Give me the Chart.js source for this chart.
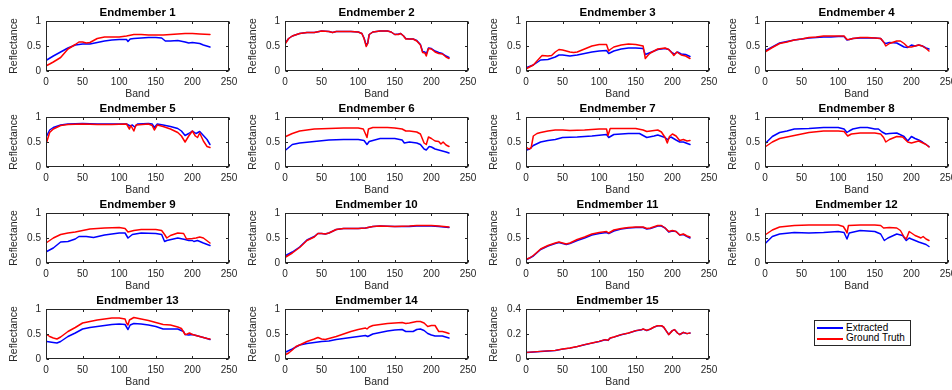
<!DOCTYPE html>
<html>
<head>
<meta charset="utf-8">
<script src="https://cdn.jsdelivr.net/npm/chart.js@4.4.1/dist/chart.umd.min.js"></script>
<style>
  html, body { margin: 0; padding: 0; width: 952px; height: 390px; overflow: hidden; background: #fff; }
  body { position: relative; font-family: "Liberation Sans", Arial, Helvetica, sans-serif; }
  canvas { position: absolute; }
  .lg-box { position: absolute; left: 814px; top: 320px; width: 97px; height: 26px; box-sizing: border-box; border: 1px solid #262626; background: #fff; }
  .lg-line { position: absolute; left: 817px; width: 26px; height: 1.5px; }
  .lg-text { position: absolute; left: 846px; font-size: 10px; line-height: 12px; color: #000; white-space: nowrap; }
</style>
</head>
<body>
<div class="lg-box"></div>
<div class="lg-line" style="top:327px; background:#0000ff"></div>
<div class="lg-text" style="top:321.5px">Extracted</div>
<div class="lg-line" style="top:338px; background:#ff0000"></div>
<div class="lg-text" style="top:332px">Ground Truth</div>
<script>
// band / reflectance pairs
const titles = ['Endmember 1', 'Endmember 2', 'Endmember 3', 'Endmember 4', 'Endmember 5',
    'Endmember 6', 'Endmember 7', 'Endmember 8', 'Endmember 9', 'Endmember 10',
    'Endmember 11', 'Endmember 12', 'Endmember 13', 'Endmember 14', 'Endmember 15'];
const seriesLabels = ['Extracted', 'Ground Truth'];
const xTicks = [0, 50, 100, 150, 200, 250];
const yTicks = [0, 0.5, 1];
const yTicks15 = [0, 0.2, 0.4];

const extracted1 = [[1,0.22],[10,0.30],[20,0.38],[30,0.46],[40,0.52],[50,0.54],[60,0.54],[70,0.57],[80,0.60],[90,0.62],[100,0.63],[110,0.63],[112,0.59],[115,0.64],[120,0.65],[130,0.66],[140,0.67],[150,0.67],[158,0.66],[163,0.60],[170,0.60],[180,0.61],[190,0.58],[195,0.56],[200,0.57],[210,0.55],[215,0.52],[224,0.48]];
const truth1 = [[1,0.11],[5,0.14],[10,0.18],[20,0.27],[30,0.44],[40,0.53],[45,0.58],[50,0.58],[55,0.56],[60,0.57],[70,0.65],[80,0.68],[90,0.68],[100,0.68],[110,0.70],[120,0.73],[130,0.73],[140,0.72],[150,0.72],[160,0.72],[170,0.73],[180,0.74],[190,0.75],[200,0.75],[210,0.74],[224,0.73]];

const extracted2 = [[1,0.57],[5,0.65],[10,0.70],[20,0.75],[30,0.77],[40,0.77],[50,0.80],[60,0.79],[65,0.77],[70,0.79],[80,0.79],[90,0.79],[100,0.78],[105,0.75],[108,0.66],[111,0.51],[113,0.56],[115,0.73],[120,0.78],[130,0.80],[140,0.80],[145,0.78],[150,0.73],[155,0.74],[158,0.75],[162,0.70],[165,0.65],[170,0.64],[175,0.64],[180,0.61],[185,0.53],[188,0.39],[191,0.38],[193,0.34],[196,0.46],[200,0.45],[205,0.40],[210,0.37],[215,0.35],[220,0.30],[224,0.27]];
const truth2 = [[1,0.56],[5,0.65],[10,0.70],[20,0.75],[30,0.77],[40,0.77],[50,0.80],[60,0.79],[65,0.77],[70,0.79],[80,0.79],[90,0.79],[100,0.78],[105,0.75],[108,0.65],[111,0.49],[113,0.55],[115,0.73],[120,0.78],[130,0.80],[140,0.80],[145,0.78],[150,0.73],[155,0.73],[158,0.75],[162,0.70],[165,0.64],[170,0.64],[175,0.64],[180,0.60],[185,0.52],[188,0.37],[191,0.36],[193,0.30],[196,0.45],[200,0.44],[205,0.38],[210,0.35],[215,0.34],[220,0.28],[224,0.25]];

const extracted3 = [[1,0.07],[10,0.12],[20,0.22],[30,0.23],[40,0.28],[45,0.32],[50,0.32],[60,0.30],[70,0.32],[80,0.35],[90,0.38],[100,0.40],[110,0.41],[113,0.35],[120,0.40],[130,0.44],[140,0.46],[150,0.46],[160,0.45],[163,0.33],[170,0.37],[180,0.43],[190,0.45],[195,0.43],[200,0.36],[203,0.34],[207,0.38],[212,0.34],[218,0.33],[224,0.29]];
const truth3 = [[1,0.05],[10,0.12],[20,0.28],[22,0.31],[30,0.30],[35,0.31],[40,0.38],[45,0.43],[50,0.42],[60,0.38],[65,0.37],[70,0.38],[80,0.44],[90,0.50],[100,0.53],[110,0.53],[113,0.40],[115,0.43],[120,0.48],[130,0.52],[140,0.54],[150,0.53],[160,0.50],[163,0.25],[167,0.32],[170,0.36],[180,0.44],[190,0.46],[195,0.43],[200,0.35],[202,0.31],[206,0.38],[212,0.32],[218,0.30],[224,0.25]];

const extracted4 = [[1,0.41],[10,0.48],[20,0.56],[30,0.59],[40,0.62],[50,0.64],[60,0.66],[70,0.67],[80,0.68],[90,0.68],[100,0.69],[108,0.69],[112,0.62],[115,0.63],[120,0.65],[130,0.66],[140,0.66],[150,0.66],[158,0.65],[162,0.58],[165,0.55],[170,0.57],[180,0.56],[185,0.52],[190,0.48],[195,0.47],[200,0.52],[205,0.50],[210,0.52],[215,0.50],[220,0.46],[224,0.44]];
const truth4 = [[1,0.39],[10,0.47],[20,0.55],[30,0.58],[40,0.62],[50,0.64],[60,0.67],[70,0.68],[80,0.70],[90,0.70],[100,0.70],[108,0.70],[112,0.63],[115,0.63],[120,0.65],[130,0.67],[140,0.67],[150,0.66],[158,0.65],[162,0.58],[165,0.50],[170,0.55],[180,0.60],[185,0.60],[190,0.55],[195,0.48],[200,0.48],[205,0.50],[210,0.52],[215,0.50],[220,0.45],[224,0.40]];

const extracted5 = [[1,0.62],[5,0.74],[10,0.79],[20,0.84],[30,0.86],[50,0.87],[70,0.86],[90,0.86],[110,0.86],[115,0.82],[118,0.84],[121,0.80],[125,0.86],[140,0.87],[145,0.86],[148,0.79],[152,0.86],[160,0.84],[170,0.81],[180,0.77],[185,0.72],[190,0.63],[195,0.67],[200,0.72],[205,0.67],[210,0.71],[215,0.63],[220,0.55],[224,0.45]];
const truth5 = [[1,0.50],[5,0.69],[10,0.76],[20,0.83],[30,0.85],[50,0.86],[70,0.85],[90,0.85],[110,0.86],[114,0.76],[116,0.83],[120,0.72],[123,0.84],[140,0.86],[145,0.83],[148,0.74],[152,0.84],[160,0.81],[170,0.76],[180,0.69],[185,0.62],[190,0.50],[195,0.62],[200,0.72],[204,0.62],[207,0.59],[210,0.68],[215,0.52],[220,0.41],[224,0.39]];

const extracted6 = [[1,0.34],[10,0.45],[20,0.48],[40,0.51],[60,0.54],[80,0.55],[100,0.55],[108,0.53],[112,0.45],[115,0.51],[130,0.57],[140,0.57],[150,0.57],[160,0.54],[163,0.48],[170,0.50],[180,0.48],[185,0.45],[190,0.36],[193,0.34],[197,0.41],[200,0.40],[205,0.36],[210,0.34],[220,0.30],[224,0.28]];
const truth6 = [[1,0.61],[10,0.67],[20,0.72],[40,0.76],[60,0.77],[80,0.78],[100,0.78],[107,0.76],[110,0.66],[112,0.59],[114,0.76],[120,0.79],[140,0.79],[150,0.78],[160,0.76],[165,0.72],[170,0.72],[180,0.70],[185,0.66],[190,0.48],[193,0.45],[196,0.60],[200,0.57],[205,0.52],[210,0.51],[213,0.46],[216,0.50],[220,0.44],[224,0.41]];

const extracted7 = [[1,0.34],[5,0.36],[10,0.43],[20,0.50],[30,0.53],[40,0.55],[50,0.59],[70,0.60],[90,0.62],[110,0.65],[113,0.59],[120,0.65],[140,0.67],[155,0.67],[160,0.63],[165,0.59],[175,0.62],[180,0.64],[190,0.59],[193,0.55],[198,0.60],[205,0.54],[210,0.50],[215,0.50],[224,0.45]];
const truth7 = [[1,0.39],[4,0.36],[7,0.38],[10,0.62],[15,0.67],[20,0.69],[30,0.72],[40,0.74],[50,0.74],[60,0.73],[80,0.74],[100,0.76],[110,0.76],[112,0.63],[115,0.77],[130,0.77],[150,0.77],[160,0.74],[165,0.71],[170,0.72],[180,0.74],[185,0.70],[190,0.59],[193,0.48],[196,0.61],[200,0.66],[205,0.62],[210,0.53],[215,0.55],[220,0.52],[224,0.53]];

const extracted8 = [[1,0.48],[10,0.61],[20,0.69],[30,0.72],[40,0.76],[60,0.77],[80,0.79],[100,0.79],[108,0.76],[112,0.69],[115,0.72],[120,0.76],[130,0.79],[140,0.79],[150,0.76],[155,0.76],[160,0.70],[165,0.66],[170,0.67],[180,0.68],[190,0.61],[195,0.52],[200,0.61],[205,0.57],[210,0.54],[215,0.50],[224,0.41]];
const truth8 = [[1,0.41],[10,0.50],[20,0.57],[40,0.63],[60,0.69],[80,0.72],[100,0.72],[108,0.71],[113,0.62],[118,0.66],[130,0.68],[150,0.68],[158,0.66],[162,0.59],[165,0.50],[170,0.55],[180,0.61],[188,0.60],[195,0.50],[200,0.48],[205,0.50],[210,0.52],[220,0.45],[224,0.40]];

const extracted9 = [[1,0.23],[10,0.30],[20,0.42],[30,0.43],[40,0.48],[45,0.53],[55,0.53],[65,0.51],[80,0.56],[100,0.60],[108,0.60],[112,0.50],[118,0.57],[130,0.60],[150,0.59],[158,0.57],[162,0.43],[165,0.45],[180,0.50],[190,0.47],[195,0.45],[200,0.45],[202,0.43],[207,0.45],[215,0.40],[224,0.35]];
const truth9 = [[1,0.41],[10,0.50],[20,0.57],[30,0.60],[40,0.62],[50,0.65],[60,0.68],[80,0.70],[100,0.71],[108,0.69],[112,0.62],[120,0.65],[130,0.67],[150,0.67],[158,0.65],[162,0.57],[165,0.50],[170,0.55],[180,0.60],[188,0.59],[192,0.48],[200,0.49],[205,0.50],[210,0.52],[215,0.50],[224,0.40]];

const extracted10 = [[1,0.15],[10,0.22],[20,0.32],[30,0.46],[40,0.53],[45,0.59],[50,0.59],[55,0.58],[60,0.60],[70,0.67],[80,0.69],[100,0.69],[110,0.70],[120,0.73],[130,0.74],[150,0.73],[170,0.73],[180,0.74],[200,0.74],[210,0.73],[224,0.71]];
const truth10 = [[1,0.12],[10,0.20],[20,0.31],[30,0.45],[40,0.52],[45,0.59],[50,0.59],[55,0.58],[60,0.60],[70,0.67],[80,0.69],[100,0.69],[110,0.70],[120,0.73],[130,0.74],[150,0.73],[170,0.74],[180,0.75],[200,0.75],[210,0.74],[224,0.72]];

const extracted11 = [[1,0.07],[5,0.10],[10,0.14],[20,0.27],[30,0.34],[40,0.39],[45,0.41],[50,0.39],[55,0.37],[60,0.39],[70,0.45],[80,0.50],[90,0.56],[100,0.59],[110,0.61],[113,0.59],[120,0.64],[130,0.68],[140,0.70],[150,0.71],[160,0.71],[165,0.68],[170,0.69],[180,0.74],[185,0.74],[190,0.70],[195,0.62],[200,0.64],[205,0.63],[210,0.56],[215,0.57],[220,0.53],[224,0.50]];
const truth11 = [[1,0.08],[5,0.10],[10,0.15],[20,0.28],[30,0.35],[40,0.40],[45,0.42],[50,0.40],[55,0.38],[60,0.40],[70,0.47],[80,0.52],[90,0.58],[100,0.61],[110,0.63],[113,0.60],[120,0.66],[130,0.69],[140,0.71],[150,0.72],[160,0.72],[165,0.69],[170,0.70],[180,0.75],[185,0.75],[190,0.70],[195,0.63],[200,0.65],[205,0.63],[210,0.56],[215,0.58],[220,0.54],[224,0.52]];

const extracted12 = [[1,0.40],[10,0.53],[20,0.58],[40,0.61],[60,0.60],[80,0.61],[100,0.63],[108,0.61],[112,0.48],[115,0.60],[130,0.65],[150,0.63],[158,0.58],[163,0.45],[168,0.50],[180,0.58],[188,0.55],[193,0.45],[197,0.50],[200,0.48],[205,0.45],[210,0.42],[220,0.37],[224,0.33]];
const truth12 = [[1,0.57],[10,0.66],[20,0.72],[40,0.75],[60,0.76],[80,0.76],[100,0.76],[107,0.73],[110,0.66],[112,0.60],[114,0.75],[130,0.76],[150,0.76],[158,0.75],[162,0.70],[170,0.71],[180,0.70],[185,0.65],[190,0.52],[193,0.48],[197,0.63],[200,0.60],[205,0.55],[210,0.52],[213,0.50],[216,0.53],[220,0.48],[224,0.45]];

const extracted13 = [[1,0.35],[10,0.33],[15,0.32],[20,0.35],[30,0.45],[40,0.52],[50,0.60],[60,0.63],[70,0.65],[80,0.67],[90,0.69],[100,0.70],[108,0.69],[112,0.59],[115,0.68],[120,0.71],[130,0.70],[140,0.68],[150,0.65],[160,0.60],[170,0.60],[180,0.60],[188,0.55],[190,0.49],[195,0.48],[200,0.49],[210,0.45],[220,0.41],[224,0.39]];
const truth13 = [[1,0.49],[5,0.45],[10,0.42],[15,0.40],[20,0.44],[30,0.55],[40,0.63],[50,0.72],[60,0.75],[70,0.78],[80,0.80],[90,0.82],[100,0.82],[108,0.80],[110,0.72],[112,0.68],[114,0.78],[120,0.83],[130,0.80],[140,0.77],[150,0.73],[160,0.69],[170,0.68],[180,0.64],[185,0.61],[190,0.49],[193,0.50],[196,0.52],[200,0.49],[210,0.45],[220,0.41],[224,0.40]];

const extracted14 = [[1,0.14],[10,0.20],[20,0.28],[30,0.31],[40,0.33],[50,0.35],[60,0.36],[70,0.39],[80,0.41],[90,0.43],[100,0.45],[110,0.47],[113,0.45],[120,0.50],[130,0.53],[140,0.56],[150,0.58],[160,0.59],[165,0.55],[175,0.55],[180,0.59],[185,0.60],[190,0.57],[195,0.51],[200,0.48],[205,0.46],[215,0.46],[224,0.42]];
const truth14 = [[1,0.09],[5,0.12],[10,0.18],[15,0.25],[20,0.28],[30,0.35],[40,0.40],[45,0.43],[50,0.40],[55,0.39],[60,0.41],[70,0.45],[80,0.50],[90,0.55],[100,0.59],[110,0.62],[112,0.60],[115,0.64],[120,0.67],[130,0.69],[140,0.71],[150,0.72],[160,0.73],[165,0.71],[170,0.72],[180,0.75],[185,0.75],[190,0.72],[195,0.65],[200,0.67],[205,0.67],[210,0.55],[215,0.55],[220,0.53],[224,0.51]];

const extracted15 = [[1,0.052],[20,0.060],[40,0.068],[50,0.079],[60,0.087],[70,0.099],[80,0.114],[90,0.127],[100,0.140],[108,0.154],[112,0.149],[115,0.167],[120,0.175],[130,0.194],[140,0.207],[150,0.226],[158,0.234],[160,0.239],[165,0.228],[170,0.239],[175,0.255],[180,0.266],[185,0.266],[188,0.255],[192,0.221],[195,0.196],[200,0.227],[203,0.234],[207,0.208],[210,0.196],[215,0.212],[220,0.203],[224,0.207]];
const truth15 = [[1,0.053],[20,0.061],[40,0.069],[50,0.080],[60,0.088],[70,0.100],[80,0.115],[90,0.128],[100,0.141],[108,0.155],[112,0.150],[115,0.168],[120,0.176],[130,0.195],[140,0.208],[150,0.227],[158,0.235],[160,0.240],[165,0.229],[170,0.240],[175,0.256],[180,0.267],[185,0.267],[188,0.256],[192,0.221],[195,0.195],[200,0.227],[203,0.235],[207,0.208],[210,0.195],[215,0.213],[220,0.203],[224,0.208]];

const extractedAll = [extracted1, extracted2, extracted3, extracted4, extracted5, extracted6, extracted7, extracted8,
    extracted9, extracted10, extracted11, extracted12, extracted13, extracted14, extracted15];
const truthAll = [truth1, truth2, truth3, truth4, truth5, truth6, truth7, truth8,
    truth9, truth10, truth11, truth12, truth13, truth14, truth15];

const AXIS = '#262626';
const FONT = '"Liberation Sans", Arial, Helvetica, sans-serif';
Chart.defaults.font.family = FONT;

// each canvas: 46px left axis + 183px plot + 46px empty right axis, so the title centres over the plot
const canvasLeft = [0, 239, 480, 719];
const canvasTop = [-1, 95, 191, 287];

// MATLAB-like box with inward tick marks
const boxPlugin = {
    id: 'boxPlugin',
    afterDatasetsDraw(chart) {
        const { ctx, chartArea: a, scales: { x, y } } = chart;
        const l = Math.round(a.left) + 0.5, r = Math.round(a.right) - 0.5;
        const t = Math.round(a.top) + 0.5, b = Math.round(a.bottom) - 0.5;
        ctx.save();
        ctx.strokeStyle = AXIS;
        ctx.lineWidth = 1;
        ctx.strokeRect(l, t, r - l, b - t);
        ctx.beginPath();
        x.ticks.forEach((tk) => {
            const px = Math.round(x.getPixelForValue(tk.value)) + 0.5;
            ctx.moveTo(px, b); ctx.lineTo(px, b - 2.5);
            ctx.moveTo(px, t); ctx.lineTo(px, t + 2.5);
        });
        y.ticks.forEach((tk) => {
            const py = Math.round(y.getPixelForValue(tk.value)) + 0.5;
            ctx.moveTo(l, py); ctx.lineTo(l + 2.5, py);
            ctx.moveTo(r, py); ctx.lineTo(r - 2.5, py);
        });
        ctx.stroke();
        ctx.restore();
    }
};

const toPoints = (pairs) => pairs.map(([band, v]) => ({ x: band, y: v }));

titles.forEach((title, i) => {
    const col = i % 4, row = Math.floor(i / 4);
    const canvas = document.createElement('canvas');
    canvas.width = 275;
    canvas.height = 103;
    canvas.style.left = canvasLeft[col] + 'px';
    canvas.style.top = canvasTop[row] + 'px';
    document.body.appendChild(canvas);

    const ticksY = i === 14 ? yTicks15 : yTicks;
    const yMax = ticksY[ticksY.length - 1];

    new Chart(canvas, {
        type: 'line',
        data: {
            datasets: [
                {
                    label: seriesLabels[0],
                    data: toPoints(extractedAll[i]),
                    borderColor: '#0000ff',
                    borderWidth: 1.5,
                    yAxisID: 'y',
                    order: 2
                },
                {
                    label: seriesLabels[1],
                    data: toPoints(truthAll[i]),
                    borderColor: '#ff0000',
                    borderWidth: 1.5,
                    yAxisID: 'y',
                    order: 1
                }
            ]
        },
        options: {
            responsive: false,
            animation: false,
            events: [],
            layout: { padding: 0 },
            elements: {
                point: { radius: 0 },
                line: { tension: 0, fill: false, borderJoinStyle: 'round', borderCapStyle: 'round' }
            },
            plugins: {
                legend: { display: false },
                tooltip: { enabled: false },
                title: {
                    display: true,
                    text: title,
                    color: '#000',
                    font: { size: 11.5, weight: 'bold', lineHeight: '14px' },
                    padding: { top: 7, bottom: 1 }
                }
            },
            scales: {
                x: {
                    type: 'linear',
                    min: 0,
                    max: 250,
                    afterBuildTicks: (s) => { s.ticks = xTicks.map((v) => ({ value: v })); },
                    afterFit: (s) => { s.height = 31; },
                    grid: { display: false, drawTicks: false },
                    border: { display: false },
                    ticks: {
                        padding: 5,
                        color: AXIS,
                        font: { size: 10 },
                        maxRotation: 0,
                        callback: (v) => String(v)
                    },
                    title: {
                        display: true,
                        text: 'Band',
                        color: AXIS,
                        font: { size: 10.5, lineHeight: '14px' },
                        padding: { top: 0, bottom: 0.5 }
                    }
                },
                y: {
                    position: 'left',
                    min: 0,
                    max: yMax,
                    afterBuildTicks: (s) => { s.ticks = ticksY.map((v) => ({ value: v })); },
                    afterFit: (s) => { s.width = 46; },
                    grid: { display: false, drawTicks: false },
                    border: { display: false },
                    ticks: {
                        padding: 5,
                        color: AXIS,
                        font: { size: 10 },
                        callback: (v) => String(v)
                    },
                    title: {
                        display: true,
                        text: 'Reflectance',
                        color: AXIS,
                        font: { size: 10.5, lineHeight: '14px' },
                        padding: { top: 7, bottom: 0 }
                    }
                },
                // empty spacer on the right
                yRight: {
                    position: 'right',
                    min: 0,
                    max: yMax,
                    afterFit: (s) => { s.width = 46; },
                    grid: { display: false, drawTicks: false },
                    border: { display: false },
                    ticks: { display: false }
                }
            }
        },
        plugins: [boxPlugin]
    });
});
</script>
</body>
</html>
